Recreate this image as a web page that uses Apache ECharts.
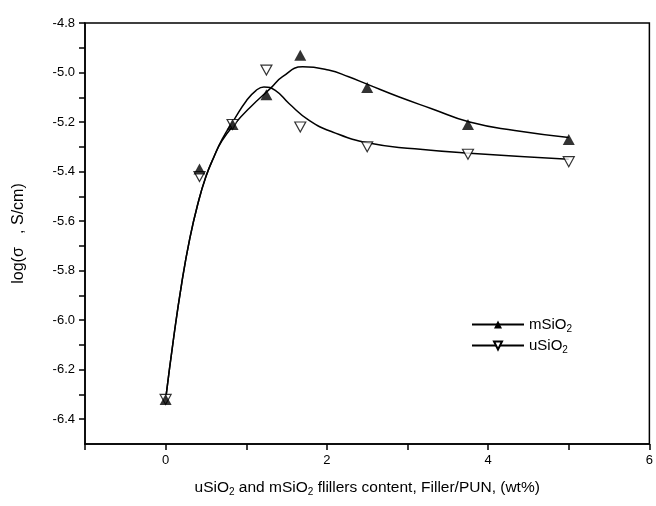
<!DOCTYPE html>
<html>
<head>
<meta charset="utf-8">
<script src="https://cdn.jsdelivr.net/npm/echarts@6/dist/echarts.min.js"></script>
<style>
    html, body { margin: 0; padding: 0; background: #fff; }
    #main { width: 656px; height: 506px; }
</style>
</head>
<body>
<div id="main"></div>
<script>
"use strict";

// measured points
var xPoints = [0, 0.42, 0.83, 1.25, 1.67, 2.5, 3.75, 5];
var mSiO2 = [-6.32, -5.39, -5.21, -5.09, -4.93, -5.06, -5.21, -5.27];
var uSiO2 = [-6.32, -5.42, -5.21, -4.99, -5.22, -5.30, -5.33, -5.36];

// fitted curves
var mFitX = [0, 0.1, 0.2, 0.3, 0.4, 0.5, 0.6, 0.7, 0.85, 1.05, 1.30, 1.45, 1.70, 2.02, 2.27, 2.52, 2.89, 3.30, 3.77, 4.33, 5.0];
var mFitY = [-6.32, -6.07, -5.85, -5.67, -5.53, -5.42, -5.34, -5.275, -5.21, -5.14, -5.064, -5.017, -4.977, -4.99, -5.017, -5.05, -5.098, -5.146, -5.20, -5.234, -5.262];
var uFitX = [0, 0.1, 0.2, 0.3, 0.4, 0.5, 0.6, 0.7, 0.85, 1.0, 1.12, 1.22, 1.36, 1.53, 1.78, 2.07, 2.52, 3.09, 3.77, 5.0];
var uFitY = [-6.32, -6.07, -5.85, -5.67, -5.53, -5.42, -5.34, -5.27, -5.19, -5.115, -5.073, -5.058, -5.072, -5.125, -5.193, -5.24, -5.285, -5.308, -5.326, -5.35];

var xLabels = [0, 2, 4, 6];
var yLabels = [-4.8, -5.0, -5.2, -5.4, -5.6, -5.8, -6.0, -6.2, -6.4];

function pairs(xs, ys) {
    var out = [];
    for (var i = 0; i < xs.length; i++) {
        out.push([xs[i], ys[i]]);
    }
    return out;
}

var downTri = 'path://M0,0 L10,0 L5,9 Z';
var font = 'Liberation Sans, Arial, sans-serif';

var myChart = echarts.init(document.getElementById('main'));

var option = {
    animation: false,
    grid: {
        left: 85,
        right: 4,
        top: 23,
        bottom: 62,
        show: true,
        borderColor: '#000',
        borderWidth: 1.5
    },
    legend: {
        left: 466,
        top: 312,
        orient: 'vertical',
        itemWidth: 52,
        itemHeight: 10,
        itemGap: 4,
        data: ['mSiO2', 'uSiO2'],
        formatter: function (name) {
            return '{a|' + name.slice(0, 4) + '}{b|2}';
        },
        textStyle: {
            color: '#000',
            fontFamily: font,
            rich: {
                a: { fontSize: 15, fontFamily: font, color: '#000' },
                b: { fontSize: 10, fontFamily: font, color: '#000', padding: [9, 0, 0, 0] }
            }
        }
    },
    xAxis: {
        type: 'value',
        min: -1,
        max: 6,
        interval: 1,
        splitLine: { show: false },
        axisLine: { onZero: false, lineStyle: { color: '#000', width: 1.5 } },
        axisTick: { length: 6, lineStyle: { color: '#000', width: 1.5 } },
        axisLabel: {
            color: '#000',
            fontSize: 13,
            fontFamily: font,
            margin: 10,
            formatter: function (v) {
                return xLabels.indexOf(v) >= 0 ? String(v) : '';
            }
        },
        name: '{a|uSiO}{b|2}{a| and mSiO}{b|2}{a| flillers content, Filler/PUN, (wt%)}',
        nameLocation: 'middle',
        nameGap: 34,
        nameTextStyle: {
            rich: {
                a: { fontSize: 15.5, fontFamily: font, color: '#000' },
                b: { fontSize: 10, fontFamily: font, color: '#000', padding: [9, 0, 0, 0] }
            }
        }
    },
    yAxis: {
        type: 'value',
        min: -6.5,
        max: -4.8,
        interval: 0.1,
        splitLine: { show: false },
        axisLine: { onZero: false, lineStyle: { color: '#000', width: 1.5 } },
        axisTick: { length: 6, lineStyle: { color: '#000', width: 1.5 } },
        axisLabel: {
            color: '#000',
            fontSize: 13,
            fontFamily: font,
            margin: 10,
            showMinLabel: false,
            formatter: function (v) {
                for (var i = 0; i < yLabels.length; i++) {
                    if (Math.abs(v - yLabels[i]) < 1e-6) {
                        return yLabels[i].toFixed(1);
                    }
                }
                return '';
            }
        },
        name: 'log(σ   , S/cm)',
        nameLocation: 'middle',
        nameGap: 58,
        nameTextStyle: { fontSize: 16, fontFamily: font, color: '#000' }
    },
    series: [
        {
            name: 'mSiO2',
            type: 'line',
            smooth: 0.5,
            symbol: 'triangle',
            symbolSize: [11, 10],
            showSymbol: false,
            itemStyle: { color: '#000' },
            lineStyle: { color: '#000', width: 1.5 },
            data: pairs(mFitX, mFitY),
            z: 2
        },
        {
            name: 'uSiO2',
            type: 'line',
            smooth: 0.5,
            symbol: downTri,
            symbolSize: [9, 7],
            showSymbol: false,
            itemStyle: { color: '#fff', borderColor: '#000', borderWidth: 0.8 },
            lineStyle: { color: '#000', width: 1.5 },
            data: pairs(uFitX, uFitY),
            z: 2
        },
        {
            name: 'mSiO2 points',
            type: 'scatter',
            symbol: 'triangle',
            symbolSize: [12, 11],
            itemStyle: { color: '#000' },
            data: pairs(xPoints, mSiO2),
            z: 4
        },
        {
            name: 'uSiO2 points',
            type: 'scatter',
            symbol: downTri,
            symbolSize: [11, 10],
            itemStyle: { color: '#fff', borderColor: '#000', borderWidth: 1.2 },
            data: pairs(xPoints, uSiO2),
            z: 3
        }
    ]
};

myChart.setOption(option);
</script>
</body>
</html>
